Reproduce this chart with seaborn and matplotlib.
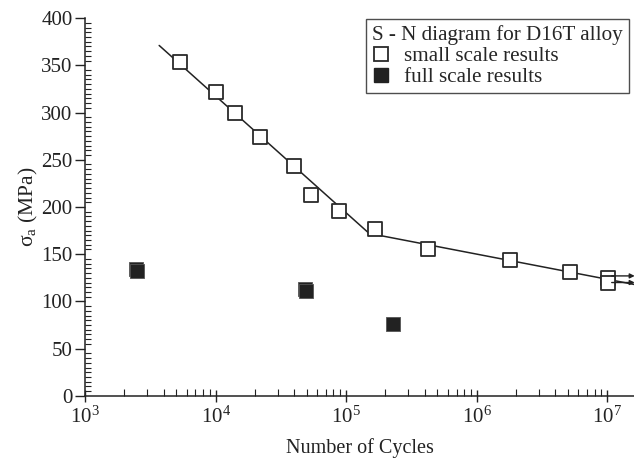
import numpy as np
import pandas as pd
import matplotlib
matplotlib.use("Agg")
import matplotlib.pyplot as plt
import seaborn as sns
from matplotlib.lines import Line2D
from matplotlib.ticker import MultipleLocator, LogLocator, NullFormatter

# small scale specimens (open squares)
small_cycles = [5.3e3, 1.0e4, 1.4e4, 2.2e4, 4.0e4, 5.4e4, 8.8e4, 1.65e5, 4.2e5, 1.8e6, 5.2e6, 1.02e7, 1.02e7]
small_stress = [354, 322, 299, 274, 243, 213, 196, 177, 155, 144, 131, 125, 119]

# full scale results (filled squares)
full_cycles = [2.45e3, 2.5e3, 4.8e4, 4.95e4, 2.3e5]
full_stress = [134, 132, 113, 111, 76]

# bilinear S-N fit
fit_cycles = [3.7e3, 1.5e5, 1.6e7]
fit_stress = [371, 172, 118]

# run-outs (arrows to the right)
runout_stress = [127, 120]

sns.set_style("ticks")
plt.rcParams['font.family'] = ['Liberation Serif', 'DejaVu Serif']
plt.rcParams['mathtext.fontset'] = 'custom'
plt.rcParams['mathtext.rm'] = 'Liberation Serif'

fig = plt.figure(figsize=(6.34, 4.63), dpi=100)
ax = fig.add_axes([0.134, 0.145, 0.866, 0.816])

small_df = pd.DataFrame({'N': small_cycles, 'S': small_stress})
full_df = pd.DataFrame({'N': full_cycles, 'S': full_stress})
fit_df = pd.DataFrame({'N': fit_cycles, 'S': fit_stress})

sns.lineplot(data=fit_df, x='N', y='S', ax=ax, color='#222222', linewidth=1.1, sort=False)
sns.scatterplot(data=small_df, x='N', y='S', ax=ax, marker='s', s=115,
                facecolor='white', edgecolor='#2a2a2a', linewidth=1.3, zorder=3)
sns.scatterplot(data=full_df, x='N', y='S', ax=ax, marker='s', s=115,
                color='#222222', edgecolor='#555555', linewidth=0.6, zorder=3)

for s in runout_stress:
    ax.annotate('', xy=(1.62e7, s), xytext=(1.08e7, s),
                arrowprops=dict(arrowstyle='-|>', color='#222222', lw=1.0,
                                mutation_scale=7, shrinkA=0, shrinkB=0),
                annotation_clip=False)

ax.set_xscale('log')
ax.set_xlim(1e3, 1.6e7)
ax.set_ylim(0, 400)

ax.yaxis.set_major_locator(MultipleLocator(50))
ax.yaxis.set_minor_locator(MultipleLocator(5))
ax.xaxis.set_major_locator(LogLocator(base=10))
ax.xaxis.set_minor_locator(LogLocator(base=10, subs=np.arange(2, 10)))
ax.xaxis.set_minor_formatter(NullFormatter())

ax.tick_params(axis='y', which='major', direction='out', length=7, width=1, labelsize=15, colors='#222222', pad=2)
ax.tick_params(axis='y', which='minor', direction='in', length=4, width=0.8, colors='#222222')
ax.tick_params(axis='x', which='major', direction='inout', length=9, width=1, labelsize=15, colors='#222222', pad=3)
ax.tick_params(axis='x', which='minor', direction='in', length=5, width=0.8, colors='#222222')

for side in ['top', 'right']:
    ax.spines[side].set_visible(False)
for side in ['left', 'bottom']:
    ax.spines[side].set_color('#222222')
    ax.spines[side].set_linewidth(1.1)

ax.set_xlabel('Number of Cycles', fontsize=14.5, labelpad=8, color='#222222')
ax.set_ylabel(r'$\mathregular{\sigma_a}$ (MPa)', fontsize=15.5, labelpad=1, color='#222222')

handles = [
    Line2D([], [], linestyle='none', marker='s', markersize=10, markerfacecolor='white',
           markeredgecolor='#2a2a2a', markeredgewidth=1.3),
    Line2D([], [], linestyle='none', marker='s', markersize=10, markerfacecolor='#222222',
           markeredgecolor='#222222'),
]
leg = ax.legend(handles, ['small scale results', 'full scale results'],
                title='S - N diagram for D16T alloy', loc='upper right',
                bbox_to_anchor=(0.995, 1.003), borderaxespad=0.1,
                fontsize=15.2, title_fontsize=15.2,
                frameon=True, fancybox=False, edgecolor='#222222',
                handlelength=0.8, handletextpad=0.7, borderpad=0.3,
                labelspacing=0.05)
leg.get_frame().set_linewidth(1.0)
leg._legend_box.align = 'left'

fig.savefig('out.png', dpi=100)
